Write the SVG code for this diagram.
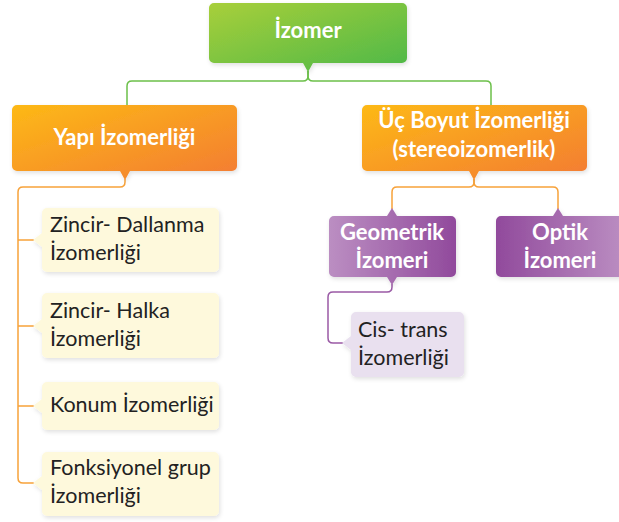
<svg xmlns="http://www.w3.org/2000/svg" width="619" height="522" viewBox="0 0 619 522">
<defs>
  <linearGradient id="gGreen" x1="0" y1="0" x2="1" y2="1">
    <stop offset="0" stop-color="#a8cf3a"/>
    <stop offset="1" stop-color="#4cb848"/>
  </linearGradient>
  <linearGradient id="gOrange" x1="0" y1="0" x2="1" y2="1">
    <stop offset="0" stop-color="#fdb916"/>
    <stop offset="1" stop-color="#f37b33"/>
  </linearGradient>
  <linearGradient id="gPurpleA" x1="0" y1="0" x2="1" y2="0">
    <stop offset="0" stop-color="#bb8ec2"/>
    <stop offset="1" stop-color="#914a9c"/>
  </linearGradient>
  <linearGradient id="gPurpleB" x1="0" y1="0" x2="1" y2="0">
    <stop offset="0" stop-color="#914a9c"/>
    <stop offset="1" stop-color="#bb8ec2"/>
  </linearGradient>
  <filter id="sh" x="-10%" y="-10%" width="125%" height="130%">
    <feDropShadow dx="1" dy="2" stdDeviation="2" flood-color="#000" flood-opacity="0.12"/>
  </filter>
</defs>
<style>
  .hd{font-family:Lato,"Open Sans",sans-serif;font-weight:bold;font-size:22px;fill:#ffffff;text-anchor:middle}
  .lf{font-family:Lato,"Open Sans",sans-serif;font-size:21.5px;fill:#222222}
  .cg{fill:none;stroke:#6cc04a;stroke-width:1.5}
  .co{fill:none;stroke:#f7a23a;stroke-width:1.5}
  .cp{fill:none;stroke:#9a5aa5;stroke-width:1.5}
  .leaf{fill:#fef9dc;filter:url(#sh)}
  .cis{fill:#e9e0ef;filter:url(#sh)}
</style>

<g id="connectors">
  <path class="cg" d="M308,71 v5 q0,5 -5,5 H132 q-5,0 -5,5 V105"/>
  <path class="cg" d="M308,71 v5 q0,5 5,5 H486 q5,0 5,5 V105"/>
  <path class="co" d="M125,179 v3 q0,5 -5,5 H23 q-5,0 -5,5 V478 q0,5 5,5 H34"/>
  <path class="co" d="M18,240 H34 M18,326 H34 M18,406 H34"/>
  <path class="co" d="M474,179 v3 q0,5 -5,5 H397 q-5,0 -5,5 V209"/>
  <path class="co" d="M474,179 v3 q0,5 5,5 H553 q5,0 5,5 V209"/>
  <path class="cp" d="M392,284 v3 q0,5 -5,5 H333 q-5,0 -5,5 V338 q0,5 5,5 H343"/>
</g>

<g id="izomer">
  <path fill="url(#gGreen)" filter="url(#sh)" d="M214,3 H402 a5,5 0 0 1 5,5 V58 a5,5 0 0 1 -5,5 H313 L308,72 L303,63 H214 a5,5 0 0 1 -5,-5 V8 a5,5 0 0 1 5,-5 Z"/>
  <text class="hd" x="308" y="38">İzomer</text>
</g>

<g id="yapi">
  <path fill="url(#gOrange)" filter="url(#sh)" d="M17,105 H232 a5,5 0 0 1 5,5 V166 a5,5 0 0 1 -5,5 H130 L125,180 L120,171 H17 a5,5 0 0 1 -5,-5 V110 a5,5 0 0 1 5,-5 Z"/>
  <text class="hd" x="124.5" y="145">Yapı İzomerliği</text>
</g>

<g id="ucboyut">
  <path fill="url(#gOrange)" filter="url(#sh)" d="M367,105 H582 a5,5 0 0 1 5,5 V166 a5,5 0 0 1 -5,5 H479 L474,180 L469,171 H367 a5,5 0 0 1 -5,-5 V110 a5,5 0 0 1 5,-5 Z"/>
  <text class="hd" x="474" y="128">Üç Boyut İzomerliği</text>
  <text class="hd" x="474" y="157">(stereoizomerlik)</text>
</g>

<g id="geometrik">
  <path fill="url(#gPurpleA)" filter="url(#sh)" d="M334,216 H387 L392,208 L397,216 H451 a5,5 0 0 1 5,5 V272 a5,5 0 0 1 -5,5 H397 L392,285 L387,277 H334 a5,5 0 0 1 -5,-5 V221 a5,5 0 0 1 5,-5 Z"/>
  <text class="hd" x="392" y="240">Geometrik</text>
  <text class="hd" x="392" y="268">İzomeri</text>
</g>

<g id="optik">
  <path fill="url(#gPurpleB)" filter="url(#sh)" d="M501,216 H553 L558,208 L563,216 H620 a5,5 0 0 1 5,5 V272 a5,5 0 0 1 -5,5 H501 a5,5 0 0 1 -5,-5 V221 a5,5 0 0 1 5,-5 Z"/>
  <text class="hd" x="560" y="240">Optik</text>
  <text class="hd" x="560" y="268">İzomeri</text>
</g>

<g id="zincir-dallanma">
  <path class="leaf" d="M47,208 H214 a5,5 0 0 1 5,5 V267 a5,5 0 0 1 -5,5 H47 a5,5 0 0 1 -5,-5 V247 L33,240 L42,233 V213 a5,5 0 0 1 5,-5 Z"/>
  <text class="lf" x="50" y="232">Zincir- Dallanma</text>
  <text class="lf" x="50" y="260">İzomerliği</text>
</g>

<g id="zincir-halka">
  <path class="leaf" d="M47,293 H214 a5,5 0 0 1 5,5 V353 a5,5 0 0 1 -5,5 H47 a5,5 0 0 1 -5,-5 V333 L33,326 L42,319 V298 a5,5 0 0 1 5,-5 Z"/>
  <text class="lf" x="50" y="318">Zincir- Halka</text>
  <text class="lf" x="50" y="346">İzomerliği</text>
</g>

<g id="konum">
  <path class="leaf" d="M47,382 H214 a5,5 0 0 1 5,5 V425 a5,5 0 0 1 -5,5 H47 a5,5 0 0 1 -5,-5 V413 L33,406 L42,399 V387 a5,5 0 0 1 5,-5 Z"/>
  <text class="lf" x="50" y="412">Konum İzomerliği</text>
</g>

<g id="fonksiyonel">
  <path class="leaf" d="M47,452 H214 a5,5 0 0 1 5,5 V511 a5,5 0 0 1 -5,5 H47 a5,5 0 0 1 -5,-5 V490 L33,483 L42,476 V457 a5,5 0 0 1 5,-5 Z"/>
  <text class="lf" x="50" y="475">Fonksiyonel grup</text>
  <text class="lf" x="50" y="503">İzomerliği</text>
</g>

<g id="cistrans">
  <path class="cis" d="M356,312 H459 a5,5 0 0 1 5,5 V372 a5,5 0 0 1 -5,5 H356 a5,5 0 0 1 -5,-5 V350 L342,343 L351,336 V317 a5,5 0 0 1 5,-5 Z"/>
  <text class="lf" x="358" y="337">Cis- trans</text>
  <text class="lf" x="358" y="365">İzomerliği</text>
</g>
</svg>
